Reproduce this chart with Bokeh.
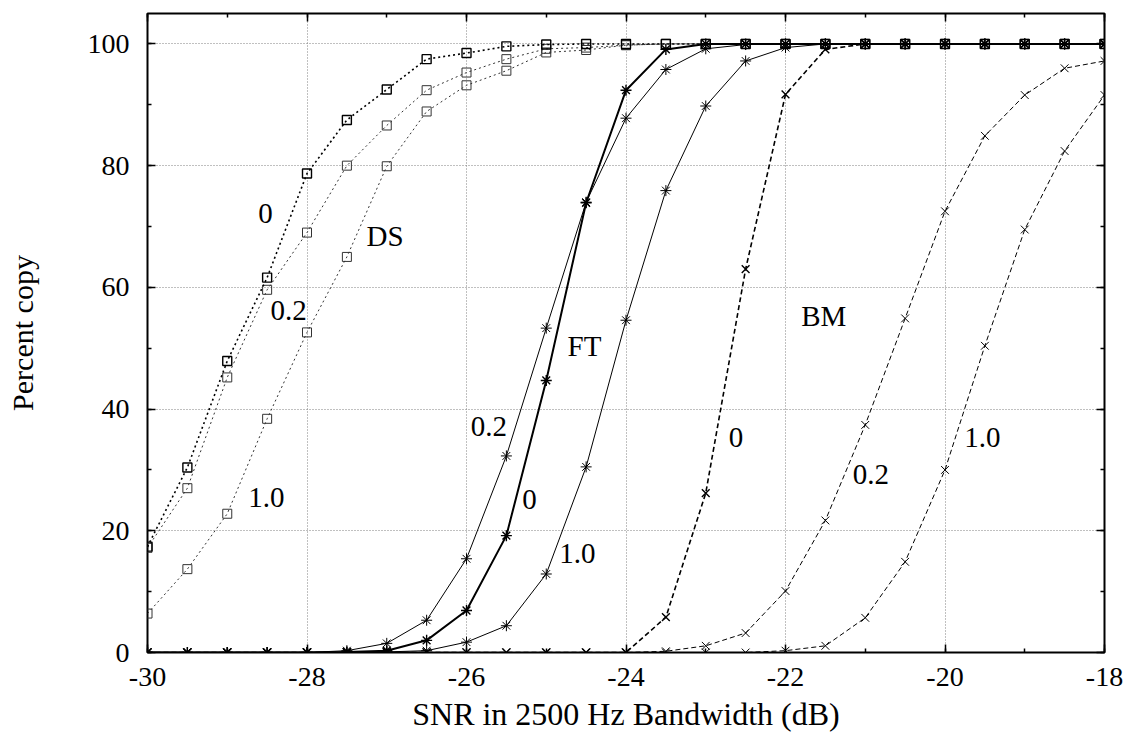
from bokeh.plotting import figure
from bokeh.models import (Range1d, LinearAxis, SingleIntervalTicker, ColumnDataSource,
                          Grid, CustomJSTickFormatter)
from bokeh.core.properties import value
from bokeh.embed import file_html
from bokeh.resources import INLINE

FONT = "Liberation Serif"

snr = [-30.0, -29.5, -29.0, -28.5, -28.0, -27.5, -27.0, -26.5, -26.0, -25.5,
       -25.0, -24.5, -24.0, -23.5, -23.0, -22.5, -22.0, -21.5, -21.0, -20.5,
       -20.0, -19.5, -19.0, -18.5, -18.0]

ds_0 = [17.4, 30.4, 47.9, 61.6, 78.7, 87.5, 92.5, 97.5, 98.5, 99.6,
        99.9, 100, 100, 100, 100, 100, 100, 100, 100, 100,
        100, 100, 100, 100, 100]
ds_02 = [17.2, 27.0, 45.2, 59.6, 69.0, 80.0, 86.6, 92.4, 95.3, 97.5,
         99.2, 99.4, 99.8, 100, 100, 100, 100, 100, 100, 100,
         100, 100, 100, 100, 100]
ds_10 = [6.4, 13.7, 22.8, 38.4, 52.6, 65.0, 79.9, 88.9, 93.2, 95.6,
         98.6, 99.0, 99.8, 100, 100, 100, 100, 100, 100, 100,
         100, 100, 100, 100, 100]

ft_0 = [0, 0, 0, 0, 0, 0.1, 0.3, 2.0, 6.9, 19.2,
        44.7, 73.9, 92.4, 99.1, 100, 100, 100, 100, 100, 100,
        100, 100, 100, 100, 100]
ft_02 = [0, 0, 0, 0, 0, 0.3, 1.5, 5.3, 15.4, 32.3,
         53.3, 74.0, 87.8, 95.8, 99.2, 99.9, 100, 100, 100, 100,
         100, 100, 100, 100, 100]
ft_10 = [0, 0, 0, 0, 0, 0, 0.1, 0.3, 1.7, 4.4,
         12.9, 30.5, 54.6, 75.9, 89.8, 97.2, 99.4, 100, 100, 100,
         100, 100, 100, 100, 100]

bm_0 = [0, 0, 0, 0, 0, 0, 0, 0, 0, 0,
        0, 0, 0, 5.8, 26.2, 63.0, 91.7, 99.1, 100, 100,
        100, 100, 100, 100, 100]
bm_02 = [0, 0, 0, 0, 0, 0, 0, 0, 0, 0,
         0, 0, 0, 0.2, 1.1, 3.2, 10.1, 21.7, 37.4, 54.9,
         72.5, 84.9, 91.6, 96.0, 97.2]
bm_10 = [0, 0, 0, 0, 0, 0, 0, 0, 0, 0,
         0, 0, 0, 0, 0, 0, 0.3, 1.1, 5.7, 14.9,
         30.0, 50.4, 69.5, 82.4, 91.6]

label_text = ["0", "DS", "0.2", "1.0", "0.2", "0", "1.0", "FT", "BM", "0", "0.2", "1.0"]
label_x = [-28.52, -27.02, -28.23, -28.51, -25.72, -25.21, -24.61, -24.52, -21.52, -22.62, -20.93, -19.53]
label_y = [72.2, 68.5, 56.2, 25.4, 37.2, 25.2, 16.2, 50.4, 55.3, 35.3, 29.3, 35.3]

p = figure(frame_width=957, frame_height=639,
           x_range=Range1d(-30, -18), y_range=Range1d(0, 105),
           output_backend="svg", toolbar_location=None,
           x_axis_location=None, y_axis_location=None,
           min_border_left=147, min_border_right=20,
           min_border_top=13, min_border_bottom=82)
p.background_fill_color = "white"
p.border_fill_color = "white"
p.outline_line_color = "black"
p.outline_line_width = 2

xt = SingleIntervalTicker(interval=2, num_minor_ticks=2)
yt = SingleIntervalTicker(interval=20, num_minor_ticks=2)
plain = CustomJSTickFormatter(code="return tick.toString();")
blank = CustomJSTickFormatter(code="return '';")


def style_axis(ax):
    ax.axis_line_color = None
    ax.major_tick_in = 8
    ax.major_tick_out = 0
    ax.minor_tick_in = 4
    ax.minor_tick_out = 0
    ax.major_tick_line_color = "black"
    ax.minor_tick_line_color = "black"
    ax.major_tick_line_width = 1.5
    ax.minor_tick_line_width = 1.5
    ax.major_label_text_font = FONT
    ax.major_label_text_color = "black"
    ax.major_label_text_font_size = "28px"
    ax.axis_label_text_font = FONT
    ax.axis_label_text_font_style = "normal"
    ax.axis_label_text_color = "black"


xb = LinearAxis(ticker=xt, formatter=plain, axis_label="SNR in 2500 Hz Bandwidth (dB)")
style_axis(xb)
xb.axis_label_text_font_size = "32px"
xb.major_label_standoff = 15
xb.axis_label_standoff = 7
p.add_layout(xb, "below")

yl = LinearAxis(ticker=yt, formatter=plain, axis_label="Percent copy")
style_axis(yl)
yl.axis_label_text_font_size = "30px"
yl.major_label_standoff = 18
yl.axis_label_standoff = 46
p.add_layout(yl, "left")

xa = LinearAxis(ticker=xt, formatter=blank)
style_axis(xa)
xa.major_label_standoff = 0
p.add_layout(xa, "above")
yr = LinearAxis(ticker=yt, formatter=blank)
style_axis(yr)
yr.major_label_standoff = 0
p.add_layout(yr, "right")

p.xgrid.visible = False
p.ygrid.visible = False
gx = Grid(dimension=0, ticker=xt, grid_line_color="#808080", grid_line_dash="1 2", grid_line_width=1)
gy = Grid(dimension=1, ticker=yt, grid_line_color="#808080", grid_line_dash="1 2", grid_line_width=1)
p.add_layout(gx)
p.add_layout(gy)

series = [
    (ds_10, "square", "2 3", 1.0, 9, "#333333"),
    (ds_02, "square", "2 3", 1.0, 9, "#333333"),
    (ds_0, "square", "2 3", 1.6, 9, "black"),
    (ft_10, "asterisk", "solid", 1.0, 11, "black"),
    (ft_02, "asterisk", "solid", 1.0, 11, "black"),
    (ft_0, "asterisk", "solid", 2.0, 11, "black"),
    (bm_10, "x", "5 3", 1.0, 11, "black"),
    (bm_02, "x", "5 3", 1.0, 11, "black"),
    (bm_0, "x", "5 3", 1.6, 11, "black"),
]

for ys, marker, dash, lw, size, col in series:
    src = ColumnDataSource(dict(x=snr, y=ys))
    p.line("x", "y", source=src, line_color=col, line_width=lw, line_dash=dash)
    p.scatter("x", "y", source=src, marker=marker, size=size, line_color=col,
              fill_color=None, line_width=1.0 if lw < 1.5 else 1.4)

lsrc = ColumnDataSource(dict(x=label_x, y=label_y, t=label_text))
p.text("x", "y", text="t", source=lsrc, text_font=value(FONT), text_font_size="29px",
       text_align="center", text_baseline="middle", text_color="black")

open("out.html", "w").write(file_html(p, INLINE))
